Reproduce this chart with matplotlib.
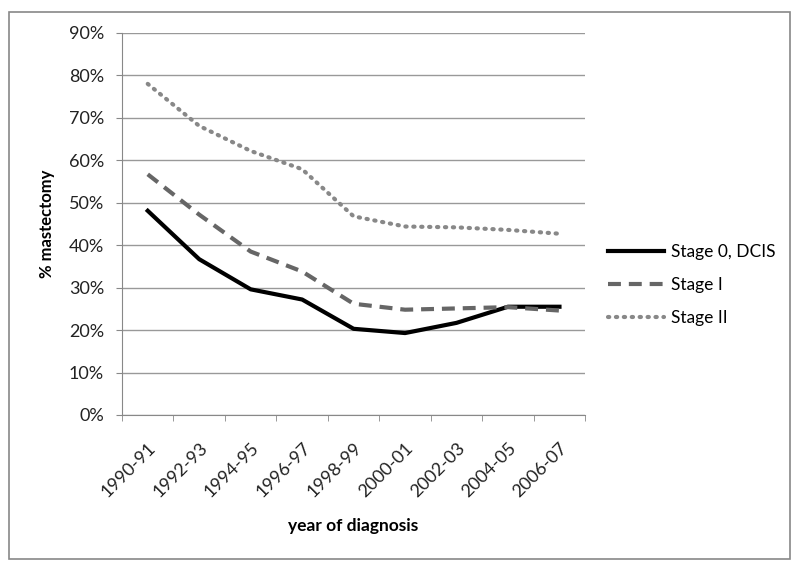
import matplotlib
matplotlib.use("Agg")
import matplotlib.pyplot as plt
from matplotlib.patches import Rectangle
from matplotlib.ticker import FixedLocator
from matplotlib.transforms import ScaledTranslation

# data
periods = ['1990-91', '1992-93', '1994-95', '1996-97', '1998-99',
           '2000-01', '2002-03', '2004-05', '2006-07']
stage0 = [48.1, 36.7, 29.6, 27.2, 20.3, 19.3, 21.7, 25.5, 25.5]
stage1 = [56.7, 47.2, 38.5, 33.8, 26.2, 24.8, 25.1, 25.4, 24.6]
stage2 = [78.0, 68.1, 62.2, 57.9, 46.8, 44.4, 44.2, 43.6, 42.7]

plt.rcParams['font.family'] = ['Lato', 'DejaVu Sans']

fig = plt.figure(figsize=(8, 5.69), dpi=100, facecolor='w')
fig.patches.append(Rectangle((0.011, 0.0176), 0.976, 0.961, transform=fig.transFigure,
                             fill=False, edgecolor='#888888', linewidth=1.2))
ax = fig.add_axes([0.1525, 0.2707, 0.579, 0.6714])

x = list(range(len(periods)))
ax.plot(x, stage0, color='black', linewidth=3, label='Stage 0, DCIS')
ax.plot(x, stage1, color='#666666', linewidth=3, dashes=(3.1, 1.9), label='Stage I')
ax.plot(x, stage2, color='#888888', linewidth=3, linestyle=(0, (0.3, 1.6)),
        dash_capstyle='round', label='Stage II')

ax.set_xlim(-0.5, len(periods) - 0.5)
ax.set_ylim(0, 90)
ax.set_yticks(range(0, 100, 10))
ax.set_yticklabels(['%d%%' % v for v in range(0, 100, 10)], fontsize=13, color='#222222')
ax.set_xticks(x)
ax.set_xticklabels(periods, rotation=45, ha='right', va='top', rotation_mode='anchor',
                   fontsize=13, color='#222222')
shift = ScaledTranslation(5 / 100, 0, fig.dpi_scale_trans)
for lbl in ax.get_xticklabels():
    lbl.set_transform(lbl.get_transform() + shift)
ax.xaxis.set_minor_locator(FixedLocator([i - 0.5 for i in range(len(periods) + 1)]))
ax.tick_params(axis='x', which='major', length=0, pad=18)
ax.tick_params(axis='x', which='minor', length=4, color='#888888')
ax.tick_params(axis='y', length=4, color='#888888', pad=9)
ax.yaxis.grid(True, color='#999999', linewidth=1)
ax.set_axisbelow(True)
for s in ['top', 'right']:
    ax.spines[s].set_visible(False)
for s in ['left', 'bottom']:
    ax.spines[s].set_color('#888888')

ax.set_ylabel('% mastectomy', fontsize=12, fontweight='bold')
ax.yaxis.set_label_coords(-0.145, 0.5)
ax.set_xlabel('year of diagnosis', fontsize=12.5, fontweight='bold')
ax.xaxis.set_label_coords(0.5, -0.27)

ax.legend(loc='center left', bbox_to_anchor=(608 / 800, 1 - 285 / 569),
          bbox_transform=fig.transFigure, frameon=False, borderpad=0, borderaxespad=0,
          fontsize=12.5, handlelength=3.2, handletextpad=0.45, labelspacing=1.0)

fig.savefig('out.png', dpi=100, facecolor='w')
plt.close()
